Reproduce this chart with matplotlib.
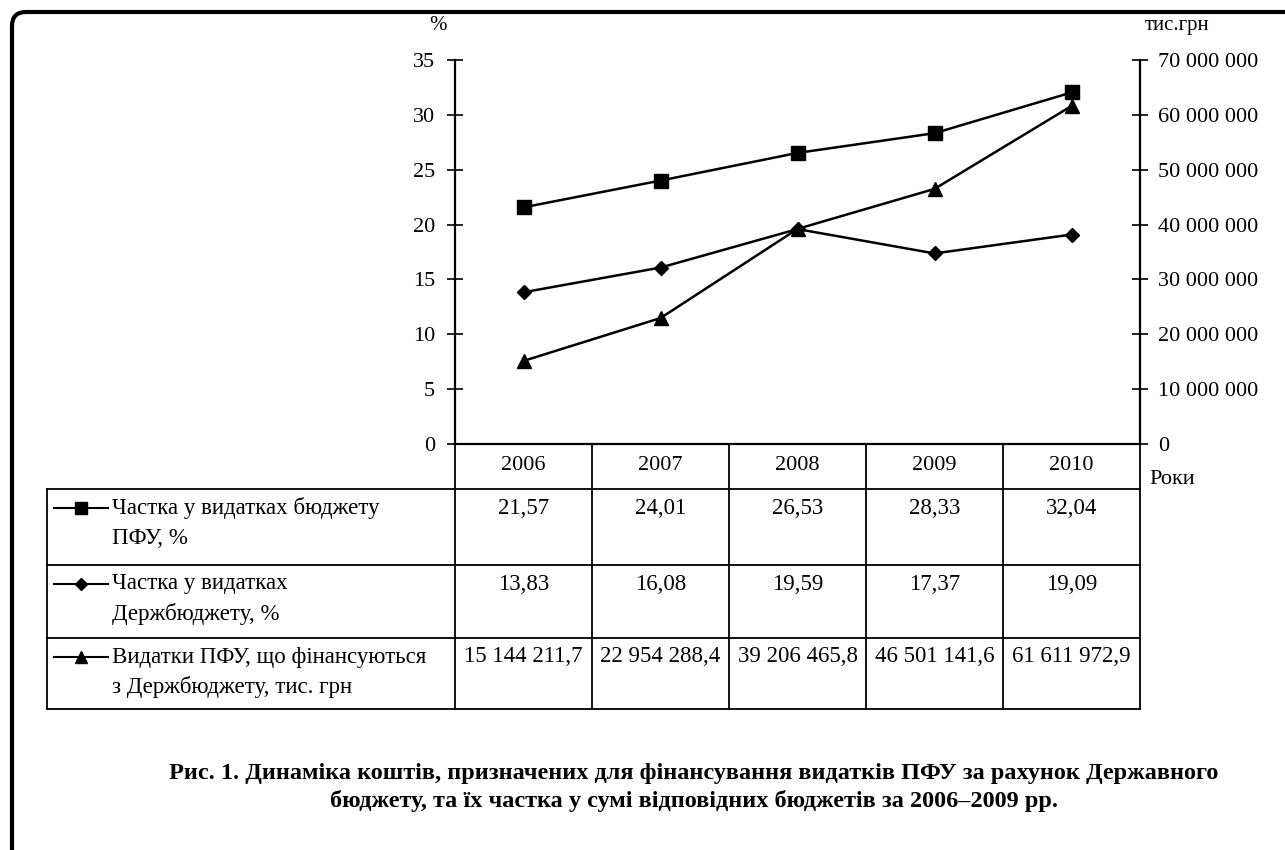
import matplotlib.pyplot as plt
from matplotlib.patches import FancyBboxPatch
import numpy as np

plt.rcParams['font.family'] = ['Liberation Serif', 'DejaVu Serif']

years = ["2006", "2007", "2008", "2009", "2010"]
share_pfu = [21.57, 24.01, 26.53, 28.33, 32.04]
share_state = [13.83, 16.08, 19.59, 17.37, 19.09]
expenses = [15144211.7, 22954288.4, 39206465.8, 46501141.6, 61611972.9]

row_labels = [
    ["Частка у видатках бюджету", "ПФУ, %"],
    ["Частка у видатках", "Держбюджету, %"],
    ["Видатки ПФУ, що фінансуються", "з Держбюджету, тис. грн"],
]
caption = ["Рис. 1. Динаміка коштів, призначених для фінансування видатків ПФУ за рахунок Державного",
           "бюджету, та їх частка у сумі відповідних бюджетів за 2006–2009 рр."]


def fmt_num(v, dec):
    s = f"{v:,.{dec}f}"
    return s.replace(",", " ").replace(".", ",")


W, H = 1285, 850
fig = plt.figure(figsize=(W / 100, H / 100), dpi=100)

# pixel layout of the plot box
x0, x1 = 455, 1140
y_top, y_zero = 60, 444
ax = fig.add_axes([x0 / W, 1 - y_zero / H, (x1 - x0) / W, (y_zero - y_top) / H])
ax2 = ax.twinx()

xs = np.arange(len(years))
ax.plot(xs, share_pfu, color="black", lw=1.8, marker="s", ms=10, zorder=3)
ax.plot(xs, share_state, color="black", lw=1.8, marker="D", ms=7, zorder=3)
ax2.plot(xs, expenses, color="black", lw=1.8, marker="^", ms=10, zorder=3)

ax.set_xlim(-0.5, len(years) - 0.5)
ax.set_ylim(0, 35)
ax.set_yticks(np.arange(0, 36, 5))
ax2.set_ylim(0, 70000000)
ax2.set_yticks(np.arange(0, 70000001, 10000000))
ax2.set_yticklabels(["0"] + [fmt_num(v, 0) for v in np.arange(10000000, 70000001, 10000000)])
ax.set_xticks([])

for a in (ax, ax2):
    a.spines["top"].set_visible(False)
    a.spines["bottom"].set_visible(False)
    a.patch.set_visible(False)
    a.tick_params(axis="y", direction="inout", length=11.5, width=1.2, labelsize=16)
ax.tick_params(axis="y", pad=8.5)
ax2.tick_params(axis="y", pad=7)
ax.spines["right"].set_visible(False)
ax.spines["left"].set_linewidth(1.6)
ax2.spines["left"].set_visible(False)
ax2.spines["right"].set_linewidth(1.6)

# overlay in pixel coords for table, labels and frame
ov = fig.add_axes([0, 0, 1, 1], zorder=-1)
ov.set_xlim(0, W)
ov.set_ylim(H, 0)
ov.axis("off")

frame = FancyBboxPatch((12, 12), 1500, 1000, boxstyle="round,pad=0,rounding_size=14",
                       fill=False, lw=3, ec="black", clip_on=False)
ov.add_patch(frame)

ov.text(438, 25, "%", fontsize=15, ha="center", va="center")
ov.text(1145, 25, "тис.грн", fontsize=15, ha="left", va="center")
ov.text(1149, 479, "Роки", fontsize=16, ha="left", va="center")

# table grid
tab_left = 47
col_w = (x1 - x0) / len(years)
row_y = [444, 489, 565, 638, 709]
lw = 1.3
ov.plot([x0, x1], [row_y[0], row_y[0]], color="black", lw=1.6)
for y in row_y[1:]:
    ov.plot([tab_left, x1], [y, y], color="black", lw=lw)
ov.plot([tab_left, tab_left], [row_y[1], row_y[-1]], color="black", lw=lw)
for i in range(len(years) + 1):
    xc = x0 + i * col_w
    ov.plot([xc, xc], [row_y[0], row_y[-1]], color="black", lw=lw)

for i, yr in enumerate(years):
    ov.text(x0 + (i + 0.5) * col_w, 465, yr, fontsize=16, ha="center", va="center")

table_vals = [
    [fmt_num(v, 2) for v in share_pfu],
    [fmt_num(v, 2) for v in share_state],
    [fmt_num(v, 1) for v in expenses],
]
markers = [("s", 8), ("D", 6), ("^", 8)]
for r in range(3):
    ytxt = row_y[r + 1] + 19
    for i, val in enumerate(table_vals[r]):
        ov.text(x0 + (i + 0.5) * col_w, ytxt, val, fontsize=16.5, ha="center", va="center")
    ov.plot([54, 108], [ytxt, ytxt], color="black", lw=1.5)
    ov.plot([81], [ytxt], color="black", marker=markers[r][0], ms=markers[r][1])
    ov.text(112, ytxt, row_labels[r][0], fontsize=16.5, ha="left", va="center")
    ov.text(112, ytxt + 30, row_labels[r][1], fontsize=16.5, ha="left", va="center")

ov.text(694, 773, caption[0], fontsize=17.5, fontweight="bold", ha="center", va="center")
ov.text(694, 801, caption[1], fontsize=17.5, fontweight="bold", ha="center", va="center")

fig.savefig("out.png", dpi=100)
